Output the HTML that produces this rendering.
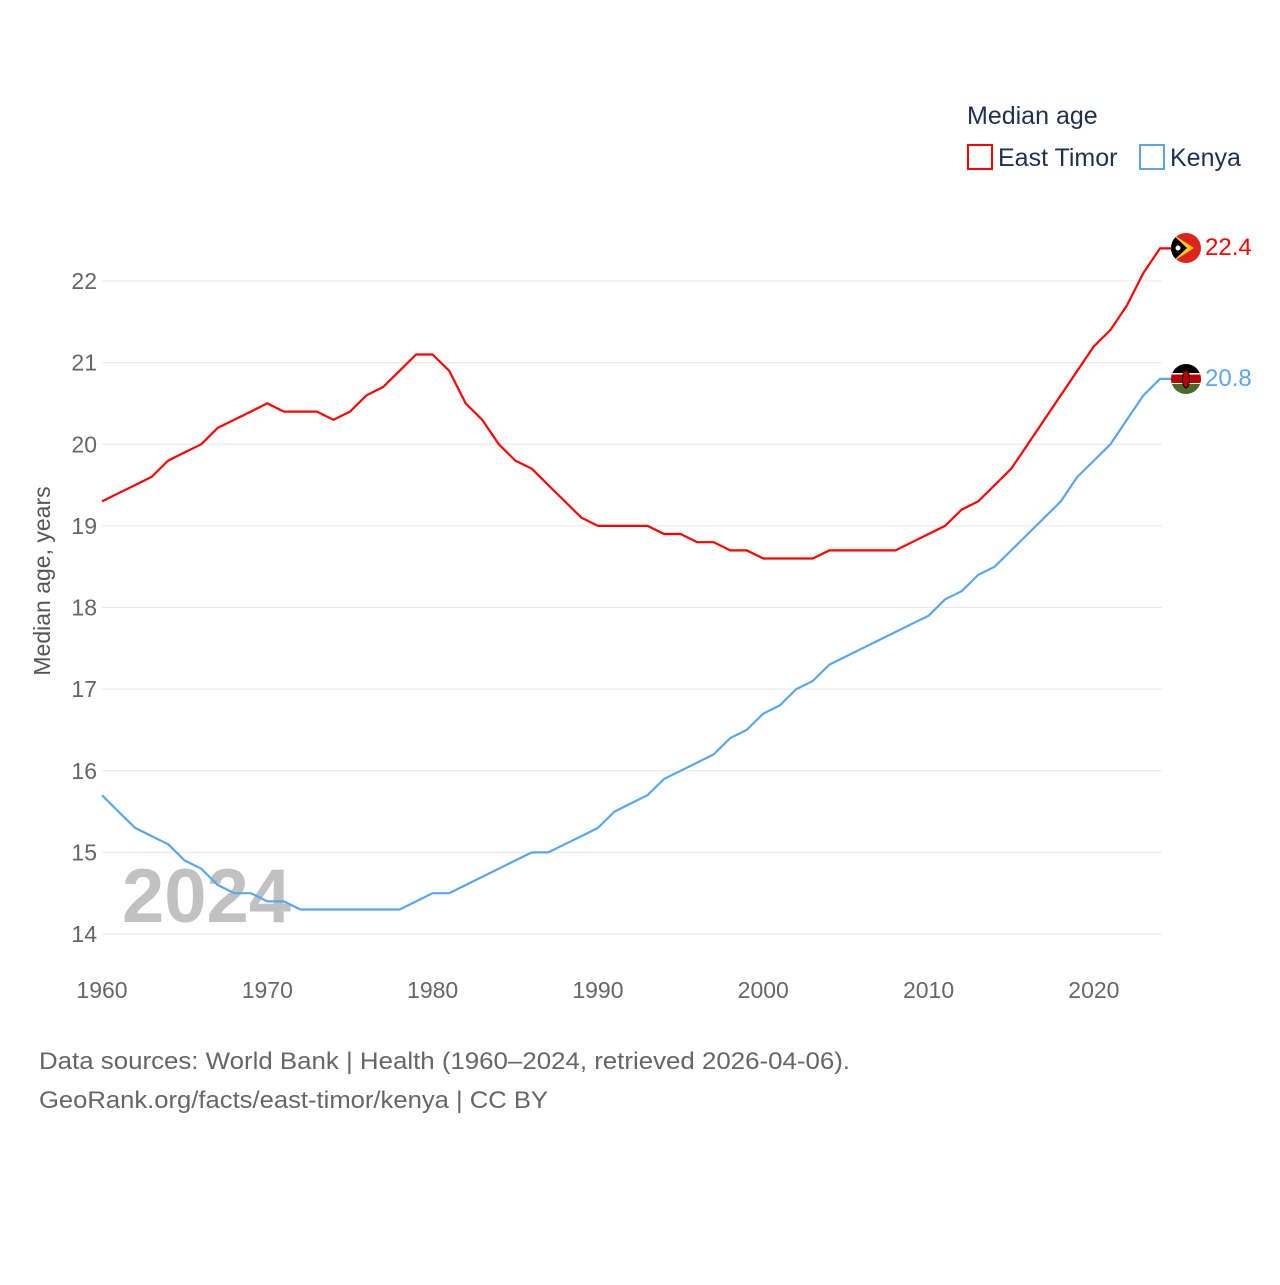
<!DOCTYPE html>
<html><head><meta charset="utf-8"><style>
body{margin:0;background:#fff;width:1280px;height:1280px;overflow:hidden;font-family:"Liberation Sans",sans-serif}
</style></head><body>
<svg id="chart" width="1280" height="1280" xmlns="http://www.w3.org/2000/svg" font-family="Liberation Sans, sans-serif">
<text x="967" y="124" font-size="25" fill="#1d3050">Median age</text>
<g><rect x="968" y="145" width="24" height="24" fill="none" stroke="#f00" stroke-width="2"/><text x="998" y="166" font-size="25" fill="#1d3050">East Timor</text></g>
<g><rect x="1140" y="145" width="24" height="24" fill="none" stroke="#5ba6ea" stroke-width="2"/><text x="1170" y="166" font-size="25" fill="#1d3050">Kenya</text></g>
<g id="grid"></g>
<g id="yticks"></g>
<g id="xticks"></g>
<text transform="translate(50,581) rotate(-90)" text-anchor="middle" font-size="23" fill="#555">Median age, years</text>
<text x="122" y="922" font-size="76" font-weight="bold" fill="#bbb" opacity="0.9">2024</text>
<g id="series"></g>
<g>
<clipPath id="c1"><circle cx="1186" cy="248" r="15"/></clipPath>
<g clip-path="url(#c1)"><rect x="1171" y="233" width="30" height="30" fill="#dc241f"/><polygon points="1171,233 1194,248 1171,263" fill="#ffc726"/><polygon points="1171,233 1187,248 1171,263" fill="#000"/><circle cx="1178" cy="248" r="2.5" fill="#fff"/></g></g>
<g>
<clipPath id="c2"><circle cx="1186" cy="379" r="15"/></clipPath>
<g clip-path="url(#c2)"><rect x="1171" y="364" width="30" height="10" fill="#000"/><rect x="1171" y="374" width="30" height="10" fill="#bb0000"/><rect x="1171" y="373" width="30" height="1.5" fill="#fff"/><rect x="1171" y="383" width="30" height="1.5" fill="#fff"/><rect x="1171" y="384" width="30" height="10" fill="#4a6b2a"/><ellipse cx="1186" cy="379" rx="3.5" ry="9" fill="#bb0000" stroke="#000" stroke-width="1"/></g></g>
<text x="1205" y="255" font-size="24" fill="#f00">22.4</text>
<text x="1205" y="386" font-size="24" fill="#5ba6ea">20.8</text>
<text x="39" y="1069" font-size="24" fill="#666" textLength="811" lengthAdjust="spacingAndGlyphs">Data sources: World Bank | Health (1960–2024, retrieved 2026-04-06).</text>
<text x="39" y="1108" font-size="24" fill="#666" textLength="509" lengthAdjust="spacingAndGlyphs">GeoRank.org/facts/east-timor/kenya | CC BY</text>
</svg>
<script>
const years=[];for(let y=1960;y<=2024;y++)years.push(y);
const eastTimor=[19.3,19.4,19.5,19.6,19.8,19.9,20.0,20.2,20.3,20.4,20.5,20.4,20.4,20.4,20.3,20.4,20.6,20.7,20.9,21.1,21.1,20.9,20.5,20.3,20.0,19.8,19.7,19.5,19.3,19.1,19.0,19.0,19.0,19.0,18.9,18.9,18.8,18.8,18.7,18.7,18.6,18.6,18.6,18.6,18.7,18.7,18.7,18.7,18.7,18.8,18.9,19.0,19.2,19.3,19.5,19.7,20.0,20.3,20.6,20.9,21.2,21.4,21.7,22.1,22.4];
const kenya=[15.7,15.5,15.3,15.2,15.1,14.9,14.8,14.6,14.5,14.5,14.4,14.4,14.3,14.3,14.3,14.3,14.3,14.3,14.3,14.4,14.5,14.5,14.6,14.7,14.8,14.9,15.0,15.0,15.1,15.2,15.3,15.5,15.6,15.7,15.9,16.0,16.1,16.2,16.4,16.5,16.7,16.8,17.0,17.1,17.3,17.4,17.5,17.6,17.7,17.8,17.9,18.1,18.2,18.4,18.5,18.7,18.9,19.1,19.3,19.6,19.8,20.0,20.3,20.6,20.8];
const yTicks=[14,15,16,17,18,19,20,21,22];
const xTicks=[1960,1970,1980,1990,2000,2010,2020];
const NS="http://www.w3.org/2000/svg";
const X=y=>102+(y-1960)*(1160-102)/64;
const Y=v=>934-(v-14)*(934-281)/8;
function mk(tag,attrs,parent){const e=document.createElementNS(NS,tag);for(const k in attrs)e.setAttribute(k,attrs[k]);parent.appendChild(e);return e;}
const grid=document.getElementById('grid'),yt=document.getElementById('yticks'),xt=document.getElementById('xticks'),ser=document.getElementById('series');
yTicks.forEach(v=>{
 const l=mk('line',{x1:102,x2:1162,y1:Y(v),y2:Y(v),stroke:'#e6e6e6','stroke-width':1},grid);
 
 
 const t=mk('text',{x:97,y:Y(v)+8,'text-anchor':'end','font-size':23,fill:'#666'},yt);
 
 
 t.textContent=v;
});
xTicks.forEach(v=>{
 const t=mk('text',{x:X(v),y:998,'text-anchor':'middle','font-size':23,fill:'#666'},xt);
 
 
 t.textContent=v;
});
function line(vals,color){
 const last=vals[vals.length-1];
 const d=vals.map((v,i)=>(i?'L':'M')+X(years[i]).toFixed(1)+','+Y(v).toFixed(1)).join(' ')+' L1172,'+Y(last).toFixed(1);
 return mk('path',{d:d,fill:'none',stroke:color,'stroke-width':2.2,'stroke-linejoin':'round'},ser);
}
const p1=line(eastTimor,'#f00');


const p2=line(kenya,'#5ba6ea');


</script>
</body></html>
